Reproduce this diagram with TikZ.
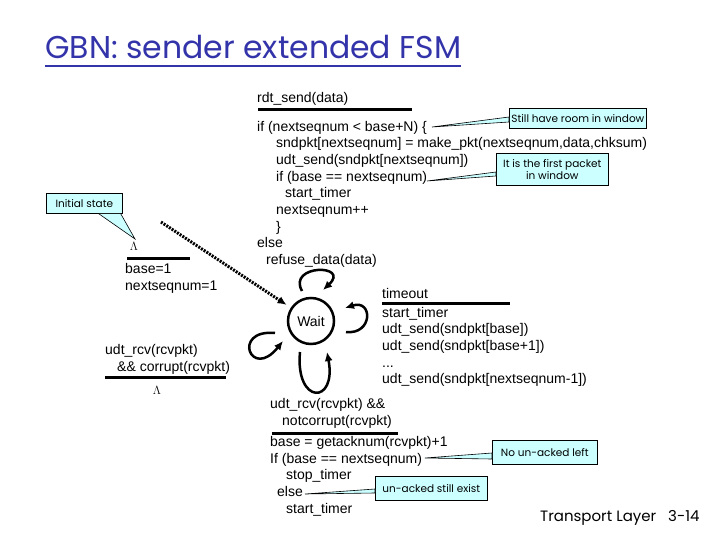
\documentclass[tikz,border=0pt]{standalone}
\usepackage{fontspec}
\setmainfont{Liberation Sans}
\newfontfamily\handfont{Poppins}
\usetikzlibrary{calc}
\usetikzlibrary{arrows.meta}
\tikzset{>={Latex[width=8pt,length=9pt]}}
\definecolor{titleblue}{RGB}{51,51,170}
\definecolor{notecyan}{RGB}{204,255,255}

% multi-line nodes sit on the baseline of their last line
\tikzset{
  code/.style={anchor=base west, inner sep=0pt, align=left, font=\fontsize{14}{16.7}\selectfont},
  bar/.style={line width=3pt},
  note/.style={draw=black, line width=0.7pt, fill=notecyan, anchor=north west, inner sep=1pt, align=center, font=\handfont\fontsize{10.5}{12}\selectfont},
  wedge/.style={draw=black, line width=0.6pt, fill=notecyan},
  state/.style={circle, draw=black, line width=2.5pt, minimum size=46pt, inner sep=0pt, font=\fontsize{14}{16}\selectfont},
  fsmloop/.style={->, line width=2.5pt},
  initarrow/.style={->, line width=3pt, dash pattern=on 2pt off 1.2pt, shorten >=5pt},
  lam/.style={inner sep=0pt, font=\fontsize{13}{15}\selectfont},
  footer/.style={anchor=base west, inner sep=0pt, font=\handfont\fontsize{15}{17}\selectfont},
}

\begin{document}
\begin{tikzpicture}[x=1pt, y=-1pt]
  \useasboundingbox (0,0) rectangle (720,540);
  \fill[white] (0,0) rectangle (720,540);

  % title
  \node[anchor=base west, inner sep=0pt, text=titleblue, font=\handfont\fontsize{31.5}{34}\selectfont] (title) at (45,59) {GBN: sender extended FSM};
  \draw[titleblue, line width=2pt] ($(title.base west)+(0,7)$) -- ($(title.base east)+(0,7)$);

  % the one state and its loops
  \node[state] (Wait) at (311,321) {Wait};
  \draw[fsmloop] ($(Wait)+(-9,-30)$) .. controls ($(Wait)+(-24,-57)$) and ($(Wait)+(40,-57)$) .. ($(Wait)+(12,-31)$);
  \draw[fsmloop] ($(Wait)+(35,11)$) .. controls ($(Wait)+(62,14)$) and ($(Wait)+(62,-22)$) .. ($(Wait)+(34,-13)$);
  \draw[fsmloop] ($(Wait)+(-11,31)$) .. controls ($(Wait)+(-16,84)$) and ($(Wait)+(26,84)$) .. ($(Wait)+(16,31)$);
  \draw[fsmloop] ($(Wait)+(-36,12)$) .. controls ($(Wait)+(-80,8)$) and ($(Wait)+(-60,60)$) .. ($(Wait)+(-28,20)$);

  % initial transition
  \coordinate (init) at (161,222);
  \draw[initarrow] (init) -- (Wait);
  \node[lam] (initlam) at (134,246) {$\Lambda$};
  \draw[bar] (127,258) -- (190,258);
  \node[code] (initact) at (125,290) {base=1\\nextseqnum=1};

  % rdt_send
  \node[code] (sendev) at (257,103) {rdt\_send(data)};
  \draw[bar] (258,110) -- (412,110);
  \node[code] (sendact) at (257,264.6) {if (nextseqnum < base+N) \{\\
    \hspace*{19pt}sndpkt[nextseqnum] = make\_pkt(nextseqnum,data,chksum)\\
    \hspace*{19pt}udt\_send(sndpkt[nextseqnum])\\
    \hspace*{19pt}if (base == nextseqnum)\\
    \hspace*{28pt}start\_timer\\
    \hspace*{19pt}nextseqnum++\\
    \hspace*{19pt}\}\\
    else\\
    \hspace*{9pt}refuse\_data(data)};

  % timeout
  \node[code] (timeoutev) at (382,298.5) {timeout};
  \draw[bar] (382,303) -- (510,303);
  \node[code] (timeoutact) at (382,383.8) {start\_timer\\
    udt\_send(sndpkt[base])\\
    udt\_send(sndpkt[base+1])\\
    ...\\
    udt\_send(sndpkt[nextseqnum-1])};

  % corrupt ack
  \node[code] (corruptev) at (105,371) {udt\_rcv(rcvpkt)\\\hspace*{12pt}\&\& corrupt(rcvpkt)};
  \draw[bar] (105,377) -- (226,377);
  \node[lam] (corruptlam) at (157,390) {$\Lambda$};

  % good ack
  \node[code] (ackev) at (270,425.2) {udt\_rcv(rcvpkt) \&\&\\\hspace*{12pt}notcorrupt(rcvpkt)};
  \draw[bar] (272,433) -- (398,433);
  \node[code] (ackact) at (270,513.3) {base = getacknum(rcvpkt)+1\\
    If (base == nextseqnum)\\
    \hspace*{16pt}stop\_timer\\
    \hspace*{7pt}else\\
    \hspace*{16pt}start\_timer};

  % callouts
  \node[note, minimum width=137pt, minimum height=20pt] (roomnote) at (509,108) {Still have room in window};
  \coordinate (roomtip) at (432,127);
  \draw[wedge] (roomtip) -- ([yshift=-9pt]roomnote.north west) -- ([yshift=-14pt]roomnote.north west) -- cycle;

  \node[note, minimum width=112pt, minimum height=32pt, inner ysep=2pt] (firstnote) at (496,153) {It is the first packet\\in window};
  \coordinate (firsttip) at (427,181);
  \draw[wedge] (firsttip) -- ([yshift=-19pt]firstnote.north west) -- ([yshift=-23pt]firstnote.north west) -- cycle;

  \node[note, minimum width=76pt, minimum height=20pt] (initnote) at (46,193) {Initial state};
  \coordinate (inittip) at (135,239);
  \draw[wedge] ([xshift=-24pt]initnote.south east) -- (inittip) -- ([xshift=-2pt]initnote.south east) -- cycle;

  \node[note, minimum width=105pt, minimum height=24pt] (leftnote) at (492,440) {No un-acked left};
  \coordinate (lefttip) at (425,458);
  \draw[wedge] (lefttip) -- ([yshift=-13pt]leftnote.north west) -- ([yshift=-19pt]leftnote.north west) -- cycle;

  \node[note, minimum width=112pt, minimum height=24pt] (existnote) at (375,476) {un-acked still exist};
  \coordinate (existtip) at (305,494);
  \draw[wedge] (existtip) -- ([yshift=-13pt]existnote.north west) -- ([yshift=-17pt]existnote.north west) -- cycle;

  % footer
  \node[footer] (footer) at (540,521) {Transport Layer};
  \node[footer] (pageno) at (668,521) {3-14};
\end{tikzpicture}
\end{document}
